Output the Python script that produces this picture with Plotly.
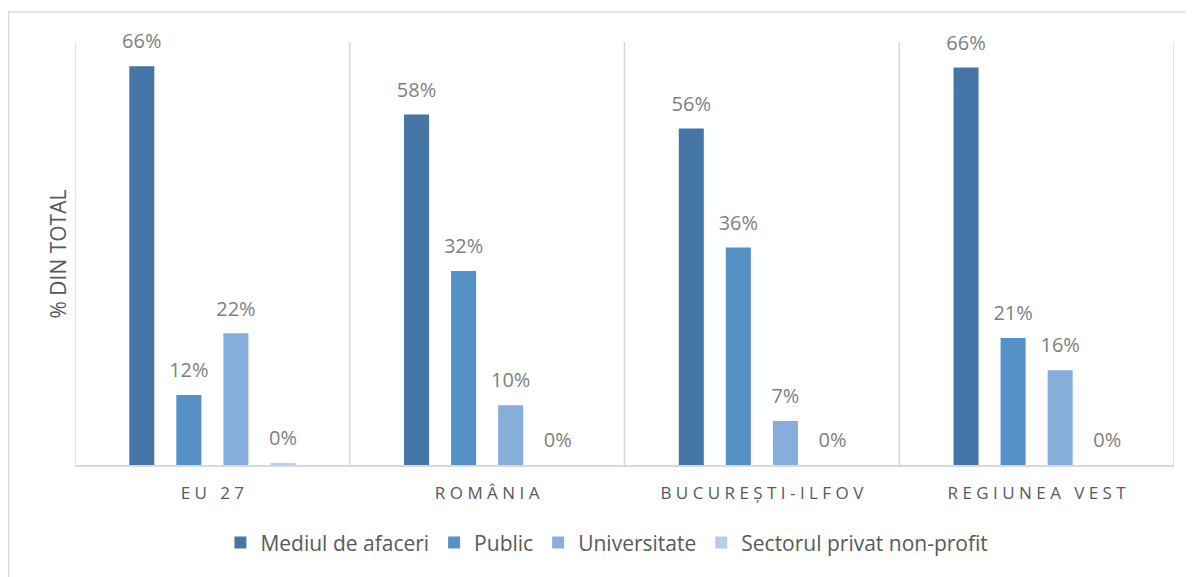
import plotly.graph_objects as go

categories = ["EU 27", "ROMÂNIA", "BUCUREȘTI-ILFOV", "REGIUNEA VEST"]
series_names = ["Mediul de afaceri", "Public", "Universitate", "Sectorul privat non-profit"]
mediul = [66.0, 58.0, 55.7, 65.8]
public = [11.6, 32.1, 36.0, 21.0]
universitate = [21.8, 9.9, 7.3, 15.7]
nonprofit = [0.3, 0.0, 0.0, 0.0]
series_values = [mediul, public, universitate, nonprofit]
colors = ["#4676A7", "#5590C7", "#86AEDB", "#B8CDE9"]

FONT = "Open Sans"
NBSP = "\u00a0"


def spaced(label):
    return NBSP.join(NBSP if ch == " " else ch for ch in label)


fig = go.Figure()
for name, vals, col in zip(series_names, series_values, colors):
    fig.add_trace(go.Bar(
        name=name,
        x=categories,
        y=vals,
        marker=dict(color=col, line=dict(width=0)),
        texttemplate="<span style='font-size:20px'>%{y:.0f}%</span><br>" + NBSP,
        textposition="outside",
        textfont=dict(family=FONT, size=9, color="#7F7F7F"),
        constraintext="none",
        cliponaxis=False,
        hoverinfo="skip",
    ))

shapes = []
for i in range(len(categories) + 1):
    shapes.append(dict(type="line", xref="x", yref="paper",
                       x0=i - 0.5, x1=i - 0.5, y0=0, y1=1,
                       line=dict(color="#D9D9D9", width=1.5), layer="below"))
shapes.append(dict(type="rect", xref="paper", yref="paper",
                   x0=-0.0605, x1=1.05, y0=-0.35, y1=1.071,
                   line=dict(color="#D9D9D9", width=1.5), layer="below"))

fig.update_layout(
    width=1185, height=569,
    margin=dict(l=67, r=19, t=34, b=112),
    paper_bgcolor="white", plot_bgcolor="white",
    barmode="group", bargap=0.315, bargroupgap=0.468,
    font=dict(family=FONT, color="#595959"),
    showlegend=True,
    legend=dict(orientation="h", x=0.484, xanchor="center", y=-0.184, yanchor="middle",
                font=dict(family=FONT, size=21, color="#595959"),
                traceorder="normal", bgcolor="rgba(0,0,0,0)"),
    xaxis=dict(range=[-0.5, 3.5], tickmode="array", tickvals=categories,
               ticktext=[spaced(c) for c in categories], ticks="",
               ticklabelstandoff=12,
               tickfont=dict(family=FONT, size=17, color="#595959"),
               showline=True, linecolor="#D9D9D9", linewidth=1.5,
               showgrid=False, zeroline=False, fixedrange=True),
    yaxis=dict(range=[0, 70], visible=False, showgrid=False, zeroline=False, fixedrange=True),
    shapes=shapes,
    annotations=[dict(text="% DIN TOTAL", xref="paper", yref="paper",
                      x=-0.0155, y=0.5, textangle=-90, showarrow=False,
                      xanchor="center", yanchor="middle",
                      font=dict(family=FONT, size=21, color="#595959"))],
)

fig.write_html("out.html")
